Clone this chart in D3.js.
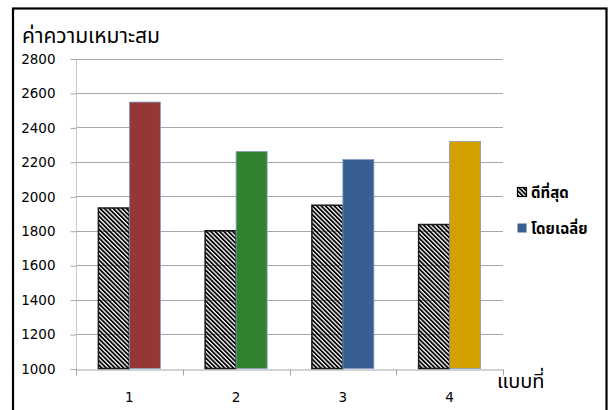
<!DOCTYPE html>
<html>
<head>
<meta charset="utf-8">
<script src="https://cdn.jsdelivr.net/npm/d3@7"></script>
<style>
  body { margin: 0; background: white; }
  text { font-family: "DejaVu Sans", sans-serif; }
  .thai { font-family: "Noto Sans Thai", "Loma", "Garuda", "Tahoma", "Noto Sans", "DejaVu Sans", sans-serif; }
</style>
</head>
<body>
<div id="container"></div>
<script>

///////////////////////////

let categories = ["1", "2", "3", "4"];
let bestValues = [1932, 1800, 1948, 1836];
let avgValues = [2547, 2260, 2213, 2319];
let avgColors = ["#953735", "#31832f", "#375f92", "#d4a000"];
let yTicks = [1000, 1200, 1400, 1600, 1800, 2000, 2200, 2400, 2600, 2800];
let seriesNames = ["ดีที่สุด", "โดยเฉลี่ย"];
let yTitle = "ค่าความเหมาะสม";
let xTitle = "แบบที่";

let w = 609;
let h = 410;
let plotLeft = 76;
let plotRight = 503;
let plotTop = 58.5;
let plotBottom = 368.5;
let barWidth = 31;

///////////////////////////

let viz = d3.select("#container").append("svg")
    .attr("width", w)
    .attr("height", h)
    .style("display", "block")
;

let defs = viz.append("defs");

defs.append("pattern")
    .attr("id", "hatch")
    .attr("patternUnits", "userSpaceOnUse")
    .attr("width", 3.1)
    .attr("height", 3.1)
    .attr("patternTransform", "rotate(-45)")
  .append("rect")
    .attr("x", 0)
    .attr("y", 0)
    .attr("width", 1.8)
    .attr("height", 3.1)
    .attr("fill", "black")
;

// outer frame
viz.append("rect")
    .attr("x", 13)
    .attr("y", 8.5)
    .attr("width", 593.5)
    .attr("height", 420)
    .attr("fill", "white")
    .attr("stroke", "black")
    .attr("stroke-width", 2.2)
;

let xScale = d3.scaleBand().domain(categories).range([plotLeft, plotRight]);
let yScale = d3.scaleLinear().domain([1000, 2800]).range([plotBottom, plotTop]);

// gridlines
viz.append("g")
    .selectAll("line")
    .data(yTicks.slice(1))
    .enter()
    .append("line")
    .attr("x1", plotLeft)
    .attr("x2", plotRight)
    .attr("y1", function(d){ return Math.round(yScale(d)) + 0.5; })
    .attr("y2", function(d){ return Math.round(yScale(d)) + 0.5; })
    .attr("stroke", "#a6a6a6")
    .attr("stroke-width", 1)
;

// y axis
let yAxis = d3.axisLeft(yScale)
    .tickValues(yTicks)
    .tickSize(6)
    .tickPadding(15)
    .tickFormat(d3.format("d"));

let yG = viz.append("g")
    .attr("transform", "translate(" + (plotLeft + 0.5) + ",0.5)")
    .call(yAxis)
;
yG.select(".domain").attr("stroke", "#c8c8c8").attr("d", "M0," + plotTop + "V" + plotBottom);
yG.selectAll(".tick line").attr("stroke", "#a6a6a6");
yG.selectAll(".tick text")
    .attr("font-size", 13.5)
    .attr("fill", "black")
    .style("font-family", "DejaVu Sans, sans-serif")
;

// x axis
let xAxis = d3.axisBottom(xScale)
    .tickSize(0)
    .tickPadding(23);

let xG = viz.append("g")
    .attr("transform", "translate(0," + (Math.round(plotBottom) + 0.5) + ")")
    .call(xAxis)
;
xG.select(".domain").attr("stroke", "#a6a6a6");
xG.selectAll(".tick text")
    .attr("font-size", 13.5)
    .attr("fill", "black")
    .style("font-family", "DejaVu Sans, sans-serif")
;

// band boundary ticks
let bounds = categories.map(function(c){ return xScale(c); }).concat([plotRight]);
xG.selectAll(".bound")
    .data(bounds)
    .enter()
    .append("line")
    .attr("class", "bound")
    .attr("x1", function(d){ return Math.round(d) + 0.5; })
    .attr("x2", function(d){ return Math.round(d) + 0.5; })
    .attr("y1", 0)
    .attr("y2", 6)
    .attr("stroke", "#a6a6a6")
;

function centerX(i){
  return xScale(categories[i]) + xScale.bandwidth() / 2;
}

// best bars (hatched)
viz.append("g")
    .selectAll("rect")
    .data(bestValues)
    .enter()
    .append("rect")
    .attr("x", function(d, i){ return centerX(i) - barWidth; })
    .attr("y", function(d){ return yScale(d); })
    .attr("width", barWidth)
    .attr("height", function(d){ return yScale(1000) - yScale(d); })
    .attr("fill", "url(#hatch)")
    .attr("stroke", "#1a1a1a")
    .attr("stroke-width", 1.5)
;

// average bars
viz.append("g")
    .selectAll("rect")
    .data(avgValues)
    .enter()
    .append("rect")
    .attr("x", function(d, i){ return centerX(i); })
    .attr("y", function(d){ return yScale(d); })
    .attr("width", barWidth)
    .attr("height", function(d){ return yScale(1000) - yScale(d); })
    .attr("fill", function(d, i){ return avgColors[i]; })
    .attr("stroke", "#7f9cc4")
    .attr("stroke-width", 0.8)
;

// titles
viz.append("text")
    .attr("class", "thai")
    .attr("x", 22)
    .attr("y", 43)
    .attr("font-size", 21)
    .text(yTitle)
;

viz.append("text")
    .attr("class", "thai")
    .attr("x", 497)
    .attr("y", 388)
    .attr("font-size", 20)
    .text(xTitle)
;

// legend
let legend = viz.append("g").attr("transform", "translate(517,187)");

legend.append("rect")
    .attr("x", 0.5)
    .attr("y", 0.5)
    .attr("width", 9)
    .attr("height", 9)
    .attr("fill", "url(#hatch)")
    .attr("stroke", "black")
    .attr("stroke-width", 1.2)
;
legend.append("rect")
    .attr("x", 0.5)
    .attr("y", 36.5)
    .attr("width", 9)
    .attr("height", 9)
    .attr("fill", "#375f92")
;

legend.selectAll(".lbl")
    .data(seriesNames)
    .enter()
    .append("text")
    .attr("class", "thai lbl")
    .attr("x", 14)
    .attr("y", function(d, i){ return 11 + i * 36; })
    .attr("font-size", 15)
    .attr("font-weight", "bold")
    .text(function(d){ return d; })
;

</script>
</body>
</html>
